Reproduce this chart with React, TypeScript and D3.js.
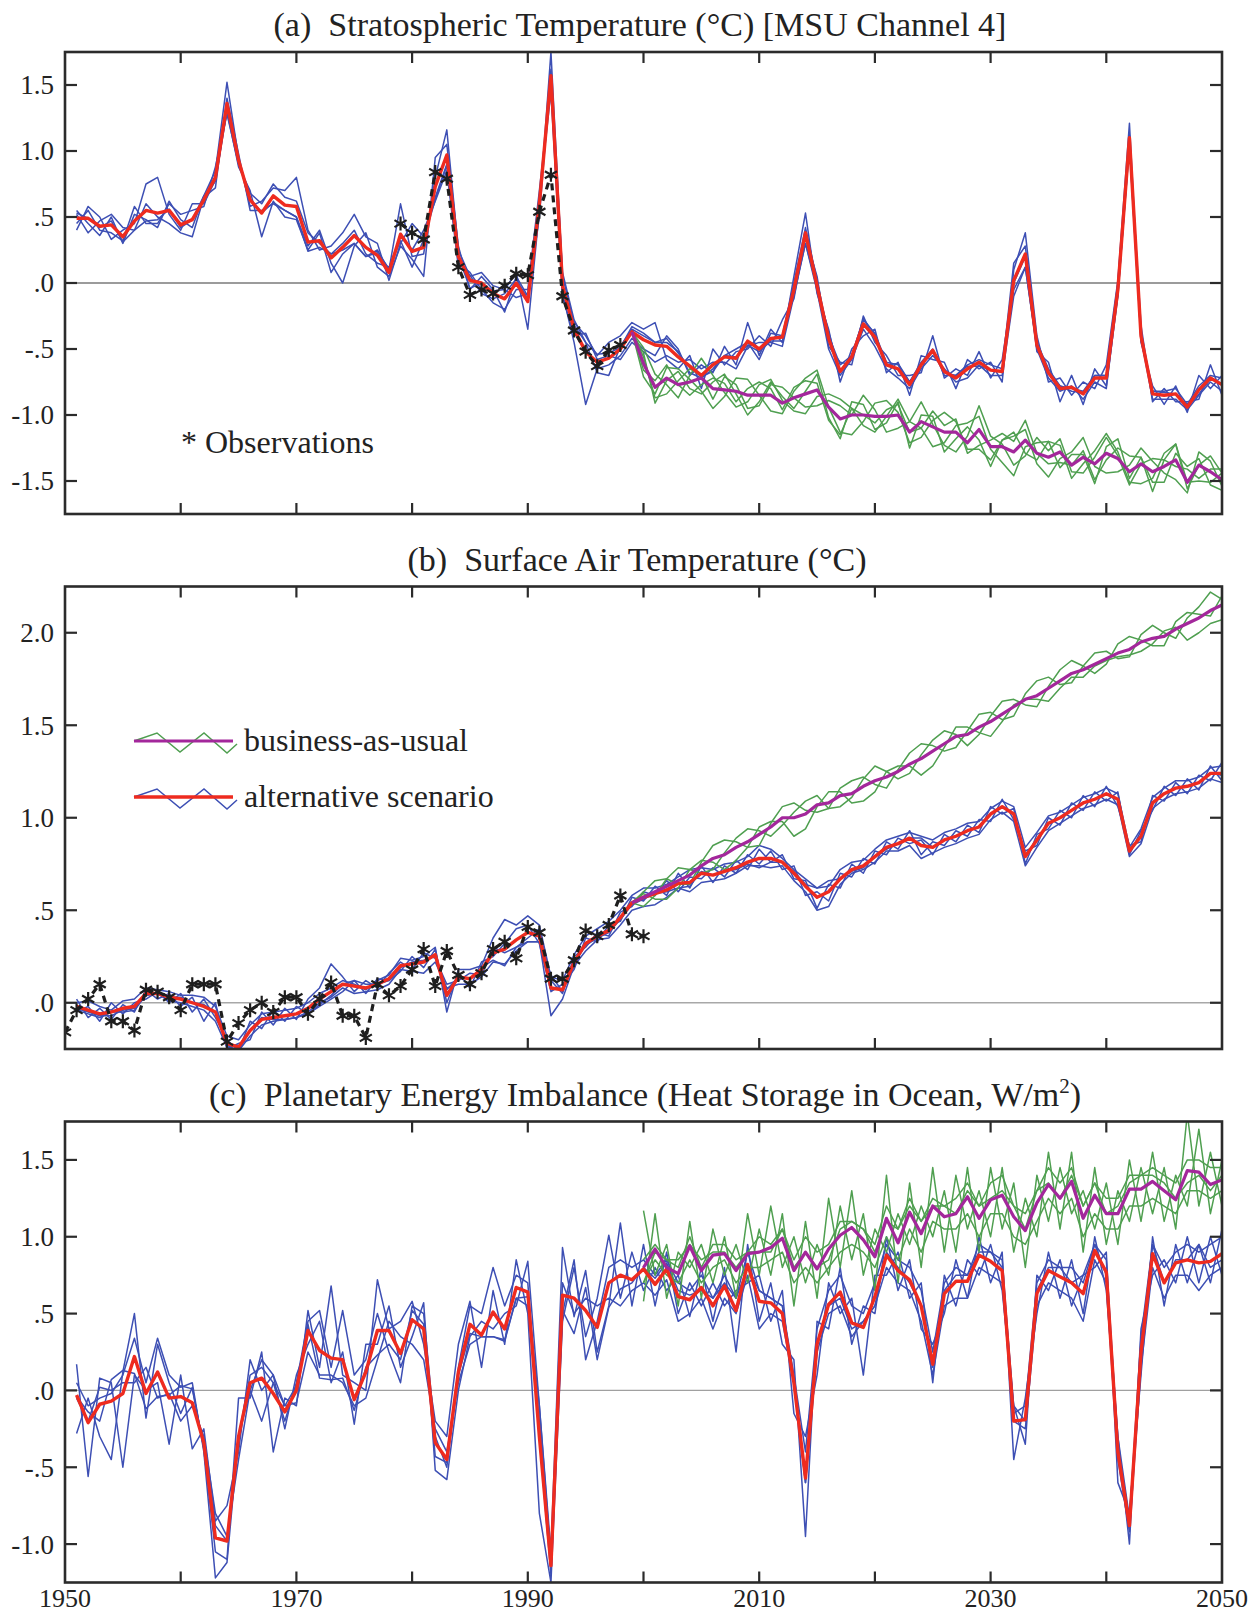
import React from 'react';
import * as d3 from 'd3';

const W = 1259;
const H = 1615;
const X0 = 65;
const X1 = 1222;
const FONT = "'Liberation Serif', 'Times New Roman', Times, serif";

const C_BLUE = '#3d4fb4';
const C_RED = '#ee2b1f';
const C_GREEN = '#4f9f50';
const C_MAG = '#a3279b';
const C_OBS = '#1e1e1e';

// ---------- years ----------
const altYears = d3.range(1951, 2051);
const bauYearsAB = d3.range(1999, 2051);
const bauYearsC = d3.range(2000, 2051);
const obsYearsA = d3.range(1979, 1999);
const obsYearsB = d3.range(1950, 2001);
const xTickYears = d3.range(1960, 2050, 10);
const xLabelYears = [1950, 1970, 1990, 2010, 2030, 2050];

// ---------- panel (a) stratospheric temperature ----------
const redA = [
  0.49, 0.49, 0.43, 0.44, 0.35, 0.47, 0.55, 0.53, 0.55, 0.44,
  0.48, 0.63, 0.80, 1.36, 0.93, 0.63, 0.53, 0.66, 0.59, 0.58,
  0.31, 0.32, 0.19, 0.27, 0.36, 0.27, 0.21, 0.08, 0.37, 0.24,
  0.27, 0.73, 0.97, 0.20, 0.02, 0.00, -0.08, -0.12, 0.00, -0.14,
  0.60, 1.57, -0.02, -0.35, -0.52, -0.60, -0.57, -0.50, -0.37, -0.43,
  -0.47, -0.48, -0.56, -0.63, -0.70, -0.62, -0.56, -0.57, -0.44, -0.50,
  -0.42, -0.41, -0.05, 0.38, -0.02, -0.42, -0.67, -0.56, -0.31, -0.41,
  -0.62, -0.65, -0.77, -0.62, -0.51, -0.67, -0.72, -0.65, -0.60, -0.66,
  -0.67, 0.02, 0.22, -0.47, -0.68, -0.80, -0.79, -0.84, -0.72, -0.72,
  -0.05, 1.10, -0.40, -0.84, -0.85, -0.84, -0.94, -0.81, -0.72, -0.77,
];

const blueA = [
  [0.55, 0.40, 0.52, 0.45, 0.53], [0.45, 0.58, 0.38, 0.55, 0.49], [0.36, 0.50, 0.47, 0.40, 0.42],
  [0.50, 0.33, 0.52, 0.38, 0.47], [0.30, 0.40, 0.42, 0.32, 0.31], [0.52, 0.45, 0.40, 0.58, 0.40],
  [0.48, 0.75, 0.60, 0.45, 0.47], [0.42, 0.80, 0.50, 0.45, 0.48], [0.62, 0.52, 0.45, 0.60, 0.56],
  [0.48, 0.40, 0.38, 0.52, 0.42], [0.42, 0.60, 0.35, 0.55, 0.48], [0.66, 0.60, 0.65, 0.58, 0.66],
  [0.85, 0.78, 0.72, 0.88, 0.77], [1.52, 1.30, 1.40, 1.28, 1.32], [0.95, 0.88, 0.98, 0.90, 0.94],
  [0.58, 0.70, 0.55, 0.68, 0.64], [0.62, 0.35, 0.55, 0.60, 0.53], [0.72, 0.62, 0.60, 0.75, 0.61],
  [0.70, 0.50, 0.55, 0.65, 0.55], [0.80, 0.48, 0.50, 0.62, 0.50], [0.40, 0.25, 0.28, 0.38, 0.24],
  [0.25, 0.38, 0.40, 0.30, 0.27], [0.28, 0.08, 0.15, 0.22, 0.22], [0.38, 0.22, 0.00, 0.30, 0.25],
  [0.52, 0.30, 0.28, 0.40, 0.30], [0.35, 0.20, 0.38, 0.22, 0.20], [0.30, 0.25, 0.12, 0.15, 0.23],
  [0.02, 0.10, 0.05, 0.12, 0.11], [0.30, 0.60, 0.28, 0.35, 0.32], [0.45, 0.20, 0.18, 0.25, 0.12],
  [0.35, 0.22, 0.05, 0.40, 0.33], [0.65, 0.80, 0.95, 0.62, 0.63], [0.90, 1.16, 1.05, 0.85, 0.89],
  [0.15, 0.25, 0.28, 0.12, 0.20], [0.08, 0.05, -0.05, 0.06, -0.04], [-0.05, 0.08, 0.05, -0.08, 0.00],
  [-0.15, -0.02, -0.05, -0.12, -0.06], [-0.20, -0.05, -0.22, -0.08, -0.05], [-0.05, 0.08, 0.05, 0.03, -0.11],
  [-0.05, -0.35, -0.10, -0.12, -0.08], [0.70, 0.55, 0.50, 0.65, 0.60], [1.50, 1.75, 1.62, 1.45, 1.53],
  [-0.08, 0.05, 0.08, -0.10, -0.05], [-0.45, -0.30, -0.28, -0.40, -0.32], [-0.92, -0.40, -0.45, -0.38, -0.45],
  [-0.65, -0.55, -0.68, -0.58, -0.54], [-0.62, -0.45, -0.70, -0.55, -0.53], [-0.55, -0.40, -0.48, -0.58, -0.49],
  [-0.42, -0.30, -0.35, -0.45, -0.33], [-0.50, -0.35, -0.40, -0.52, -0.38], [-0.55, -0.30, -0.45, -0.60, -0.45],
  [-0.40, -0.58, -0.45, -0.55, -0.42], [-0.50, -0.65, -0.52, -0.60, -0.53], [-0.70, -0.55, -0.68, -0.58, -0.64],
  [-0.62, -0.80, -0.72, -0.65, -0.71], [-0.68, -0.50, -0.65, -0.60, -0.67], [-0.48, -0.62, -0.55, -0.60, -0.55],
  [-0.62, -0.52, -0.50, -0.65, -0.56], [-0.30, -0.50, -0.45, -0.48, -0.47], [-0.55, -0.40, -0.58, -0.45, -0.52],
  [-0.35, -0.48, -0.38, -0.45, -0.44], [-0.45, -0.28, -0.40, -0.48, -0.44], [0.05, -0.12, 0.00, -0.10, -0.08],
  [0.53, 0.35, 0.42, 0.30, 0.30], [-0.08, 0.05, 0.02, -0.06, -0.03], [-0.35, -0.48, -0.40, -0.50, -0.37],
  [-0.75, -0.60, -0.62, -0.70, -0.68], [-0.50, -0.62, -0.55, -0.58, -0.55], [-0.40, -0.25, -0.28, -0.35, -0.27],
  [-0.35, -0.45, -0.38, -0.48, -0.39], [-0.68, -0.55, -0.60, -0.65, -0.62], [-0.60, -0.70, -0.62, -0.72, -0.61],
  [-0.85, -0.70, -0.75, -0.80, -0.75], [-0.55, -0.68, -0.60, -0.65, -0.62], [-0.58, -0.40, -0.50, -0.55, -0.52],
  [-0.60, -0.72, -0.70, -0.65, -0.68], [-0.80, -0.65, -0.70, -0.75, -0.70], [-0.58, -0.70, -0.62, -0.72, -0.63],
  [-0.65, -0.52, -0.58, -0.62, -0.63], [-0.60, -0.72, -0.62, -0.70, -0.66], [-0.75, -0.58, -0.65, -0.70, -0.67],
  [0.10, 0.00, 0.15, -0.10, -0.05], [0.38, 0.20, 0.28, 0.12, 0.12], [-0.40, -0.52, -0.45, -0.50, -0.48],
  [-0.75, -0.60, -0.65, -0.72, -0.68], [-0.72, -0.90, -0.78, -0.82, -0.78], [-0.85, -0.70, -0.80, -0.78, -0.82],
  [-0.75, -0.92, -0.82, -0.88, -0.83], [-0.80, -0.65, -0.70, -0.75, -0.70], [-0.62, -0.78, -0.70, -0.80, -0.70],
  [0.02, -0.10, 0.00, -0.08, -0.09], [1.21, 1.08, 1.12, 1.05, 1.04], [-0.45, -0.32, -0.38, -0.42, -0.43],
  [-0.78, -0.90, -0.82, -0.88, -0.82], [-0.92, -0.80, -0.82, -0.88, -0.83], [-0.78, -0.90, -0.80, -0.88, -0.84],
  [-0.98, -0.90, -0.92, -0.96, -0.94], [-0.70, -0.88, -0.78, -0.85, -0.84], [-0.80, -0.62, -0.70, -0.75, -0.73],
  [-0.70, -0.85, -0.72, -0.82, -0.76],
];

const magentaA = [
  -0.37, -0.61, -0.79, -0.72, -0.77, -0.75, -0.72, -0.80, -0.81, -0.82, -0.85,
  -0.85, -0.85, -0.91, -0.87, -0.84, -0.81, -0.94, -1.03, -1.00, -1.00,
  -1.01, -1.01, -1.00, -1.13, -1.05, -1.09, -1.13, -1.13, -1.21, -1.11,
  -1.24, -1.24, -1.28, -1.19, -1.29, -1.32, -1.28, -1.38, -1.32, -1.37,
  -1.29, -1.33, -1.43, -1.37, -1.43, -1.39, -1.34, -1.51, -1.38, -1.43, -1.49,
];
const greenA1 = [
  -0.37, -0.49, -0.69, -0.77, -0.87, -0.70, -0.57, -0.70, -0.83, -0.94, -0.90,
  -0.77, -0.73, -0.89, -0.97, -0.99, -0.86, -0.84, -0.88, -0.95, -1.08,
  -1.13, -1.01, -0.88, -1.05, -1.10, -1.24, -1.21, -1.08, -1.06, -1.01,
  -1.26, -1.36, -1.46, -1.24, -1.21, -1.20, -1.23, -1.48, -1.37, -1.27,
  -1.14, -1.28, -1.51, -1.52, -1.48, -1.29, -1.22, -1.51, -1.50, -1.51, -1.44,
];
const greenA2 = [
  -0.37, -0.71, -0.84, -0.64, -0.65, -0.73, -0.82, -0.95, -0.86, -0.72, -0.73,
  -0.85, -0.97, -0.99, -0.82, -0.72, -0.66, -0.94, -1.13, -1.15, -1.05,
  -0.91, -0.89, -0.98, -1.21, -1.17, -1.04, -0.98, -1.05, -1.26, -1.26,
  -1.34, -1.19, -1.16, -1.11, -1.37, -1.47, -1.33, -1.28, -1.17, -1.39,
  -1.44, -1.43, -1.38, -1.25, -1.35, -1.44, -1.49, -1.59, -1.28, -1.35, -1.54,
];
const greenA3 = [
  -0.37, -0.56, -0.87, -0.84, -0.74, -0.65, -0.70, -0.88, -0.71, -0.77, -0.95,
  -0.93, -0.77, -0.79, -0.87, -0.94, -0.93, -0.89, -0.93, -1.00, -0.85,
  -0.96, -1.13, -1.10, -1.05, -0.90, -1.07, -1.23, -1.28, -1.16, -0.93,
  -1.16, -1.22, -1.38, -1.31, -1.17, -1.27, -1.18, -1.43, -1.44, -1.32,
  -1.17, -1.31, -1.53, -1.37, -1.33, -1.34, -1.22, -1.56, -1.38, -1.31, -1.44,
];
const greenA4 = [
  -0.37, -0.66, -0.74, -0.62, -0.77, -0.85, -0.77, -0.72, -0.76, -0.90, -0.80,
  -0.75, -0.80, -0.96, -0.79, -0.74, -0.76, -1.04, -1.15, -0.95, -1.00,
  -1.06, -0.96, -0.92, -1.13, -1.10, -0.97, -1.08, -1.03, -1.29, -1.23,
  -1.19, -1.14, -1.20, -1.04, -1.29, -1.37, -1.36, -1.38, -1.27, -1.49,
  -1.34, -1.25, -1.31, -1.32, -1.51, -1.51, -1.29, -1.39, -1.33, -1.53, -1.57,
];
const greenA5 = [
  -0.37, -0.53, -0.91, -0.74, -0.67, -0.80, -0.84, -0.75, -0.69, -0.84, -1.00,
  -0.90, -0.75, -0.86, -0.95, -0.82, -0.69, -1.02, -1.18, -0.90, -0.92,
  -1.11, -1.06, -0.90, -1.25, -1.00, -1.01, -1.28, -1.18, -1.09, -1.19,
  -1.39, -1.19, -1.13, -1.29, -1.34, -1.20, -1.40, -1.30, -1.30, -1.52,
  -1.24, -1.18, -1.48, -1.32, -1.58, -1.34, -1.39, -1.41, -1.48, -1.41, -1.41,
];

const obsA = [
  0.45, 0.38, 0.33, 0.84, 0.79, 0.12, -0.09, -0.05, -0.08, -0.02,
  0.07, 0.06, 0.54, 0.82, -0.10, -0.36, -0.52, -0.63, -0.51, -0.47,
];

// ---------- panel (b) surface air temperature ----------
const redB = [
  -0.02, -0.04, -0.06, -0.05, -0.03, -0.02, 0.05, 0.05, 0.03, 0.02,
  0.00, -0.02, -0.05, -0.22, -0.24, -0.15, -0.09, -0.08, -0.07, -0.06,
  -0.03, 0.02, 0.06, 0.10, 0.09, 0.08, 0.10, 0.13, 0.20, 0.21,
  0.22, 0.26, 0.04, 0.14, 0.13, 0.18, 0.27, 0.29, 0.34, 0.38,
  0.36, 0.08, 0.07, 0.22, 0.32, 0.36, 0.39, 0.46, 0.54, 0.57,
  0.59, 0.61, 0.645, 0.65, 0.70, 0.69, 0.71, 0.73, 0.76, 0.78,
  0.78, 0.76, 0.70, 0.63, 0.57, 0.60, 0.67, 0.72, 0.74, 0.79,
  0.84, 0.86, 0.89, 0.85, 0.84, 0.88, 0.90, 0.93, 0.95, 1.02,
  1.06, 1.02, 0.79, 0.88, 0.97, 1.00, 1.04, 1.08, 1.10, 1.13,
  1.10, 0.82, 0.90, 1.08, 1.13, 1.16, 1.17, 1.19, 1.24, 1.24,
];

const blueB = [
  [0.02, -0.05, 0.00, -0.04, -0.03], [-0.08, -0.02, 0.01, -0.06, -0.05], [-0.03, -0.10, -0.02, -0.08, -0.07],
  [-0.09, 0.00, -0.04, -0.05, -0.07], [-0.01, -0.06, 0.01, -0.05, -0.04], [-0.05, 0.00, 0.02, -0.04, -0.03],
  [0.07, 0.02, 0.08, 0.04, 0.04], [0.02, 0.06, 0.07, 0.05, 0.05], [0.05, 0.00, 0.06, 0.01, 0.03],
  [-0.02, 0.05, 0.04, 0.00, 0.03], [0.03, -0.05, 0.04, -0.02, 0.00], [-0.10, 0.02, 0.03, -0.04, -0.01],
  [0.00, -0.08, -0.02, -0.10, -0.05], [-0.25, -0.20, -0.18, -0.24, -0.23], [-0.22, -0.26, -0.20, -0.26, -0.26],
  [-0.20, -0.10, -0.12, -0.18, -0.15], [-0.05, -0.14, -0.06, -0.12, -0.08], [-0.12, -0.04, -0.05, -0.10, -0.09],
  [-0.03, -0.10, -0.04, -0.09, -0.09], [-0.09, -0.02, -0.03, -0.08, -0.08], [0.02, -0.06, 0.00, -0.05, -0.06],
  [0.08, -0.02, 0.05, 0.00, -0.01], [0.21, 0.02, 0.08, 0.03, 0.04], [0.14, 0.06, 0.12, 0.08, 0.10],
  [0.06, 0.12, 0.10, 0.05, 0.12], [0.12, 0.05, 0.07, 0.06, 0.10], [0.08, 0.13, 0.12, 0.07, 0.10],
  [0.16, 0.12, 0.15, 0.10, 0.12], [0.22, 0.17, 0.24, 0.18, 0.19], [0.18, 0.25, 0.23, 0.17, 0.22],
  [0.27, 0.19, 0.25, 0.16, 0.23], [0.24, 0.29, 0.30, 0.22, 0.25], [0.10, 0.00, -0.05, 0.08, 0.07],
  [0.12, 0.16, 0.18, 0.10, 0.14], [0.16, 0.08, 0.18, 0.10, 0.13], [0.15, 0.22, 0.20, 0.14, 0.19],
  [0.30, 0.25, 0.35, 0.22, 0.23], [0.27, 0.32, 0.45, 0.21, 0.20], [0.30, 0.40, 0.42, 0.28, 0.30],
  [0.35, 0.42, 0.47, 0.33, 0.33], [0.40, 0.32, 0.42, 0.33, 0.33], [0.12, 0.06, 0.14, -0.07, 0.15],
  [0.05, 0.10, 0.12, 0.02, 0.06], [0.25, 0.18, 0.26, 0.20, 0.21], [0.30, 0.35, 0.36, 0.28, 0.31],
  [0.38, 0.33, 0.40, 0.34, 0.35], [0.36, 0.42, 0.44, 0.35, 0.38], [0.49, 0.44, 0.50, 0.42, 0.45],
  [0.52, 0.57, 0.58, 0.50, 0.53], [0.60, 0.55, 0.62, 0.52, 0.56], [0.58, 0.63, 0.62, 0.53, 0.59],
  [0.66, 0.58, 0.64, 0.57, 0.60], [0.60, 0.70, 0.68, 0.62, 0.62], [0.68, 0.62, 0.72, 0.60, 0.63],
  [0.67, 0.74, 0.73, 0.65, 0.71], [0.73, 0.65, 0.72, 0.66, 0.69], [0.68, 0.74, 0.75, 0.67, 0.71],
  [0.77, 0.70, 0.76, 0.70, 0.72], [0.72, 0.80, 0.79, 0.74, 0.75], [0.83, 0.75, 0.85, 0.74, 0.73],
  [0.76, 0.82, 0.83, 0.73, 0.76], [0.80, 0.72, 0.78, 0.74, 0.76], [0.67, 0.74, 0.72, 0.66, 0.71],
  [0.66, 0.58, 0.67, 0.60, 0.64], [0.51, 0.60, 0.62, 0.50, 0.62], [0.64, 0.55, 0.63, 0.52, 0.66],
  [0.62, 0.70, 0.72, 0.64, 0.67], [0.75, 0.68, 0.76, 0.70, 0.71], [0.70, 0.78, 0.77, 0.72, 0.73],
  [0.82, 0.75, 0.83, 0.76, 0.79], [0.80, 0.87, 0.88, 0.82, 0.83], [0.89, 0.83, 0.90, 0.82, 0.86],
  [0.86, 0.93, 0.92, 0.85, 0.89], [0.88, 0.80, 0.90, 0.78, 0.89], [0.80, 0.87, 0.88, 0.81, 0.84],
  [0.91, 0.85, 0.92, 0.84, 0.88], [0.87, 0.93, 0.94, 0.86, 0.90], [0.96, 0.90, 0.97, 0.89, 0.93],
  [0.92, 0.99, 0.98, 0.91, 0.95], [1.06, 0.98, 1.05, 0.99, 1.02], [1.02, 1.10, 1.09, 1.03, 1.06],
  [1.05, 0.99, 1.06, 0.98, 1.02], [0.75, 0.82, 0.84, 0.74, 0.80], [0.91, 0.85, 0.92, 0.84, 0.88],
  [0.94, 1.00, 1.01, 0.93, 0.97], [1.04, 0.96, 1.03, 0.97, 1.00], [1.00, 1.08, 1.07, 1.01, 1.04],
  [1.12, 1.04, 1.11, 1.05, 1.08], [1.06, 1.14, 1.13, 1.07, 1.10], [1.17, 1.09, 1.16, 1.10, 1.13],
  [1.06, 1.14, 1.13, 1.07, 1.10], [0.85, 0.80, 0.84, 0.79, 0.82], [0.87, 0.93, 0.94, 0.86, 0.90],
  [1.12, 1.04, 1.11, 1.05, 1.08], [1.09, 1.17, 1.16, 1.10, 1.13], [1.19, 1.12, 1.20, 1.13, 1.16],
  [1.13, 1.21, 1.20, 1.14, 1.17], [1.23, 1.15, 1.22, 1.16, 1.19], [1.20, 1.28, 1.27, 1.21, 1.24],
  [1.30, 1.20, 1.28, 1.19, 1.23],
];

const magentaB = [
  0.54, 0.57, 0.60, 0.63, 0.66, 0.69, 0.74, 0.78, 0.80, 0.84, 0.87,
  0.91, 0.95, 1.00, 1.00, 1.02, 1.07, 1.08, 1.12, 1.13, 1.17,
  1.20, 1.22, 1.25, 1.29, 1.32, 1.36, 1.40, 1.44, 1.45, 1.49,
  1.52, 1.56, 1.60, 1.64, 1.66, 1.70, 1.74, 1.78, 1.80, 1.83,
  1.86, 1.89, 1.91, 1.95, 1.97, 1.98, 2.02, 2.05, 2.08, 2.12, 2.15,
];
const greenB1 = [
  0.54, 0.60, 0.66, 0.67, 0.64, 0.64, 0.76, 0.85, 0.88, 0.87, 0.84,
  0.85, 0.97, 1.06, 1.08, 1.04, 1.03, 1.05, 1.16, 1.20, 1.22,
  1.18, 1.16, 1.26, 1.35, 1.40, 1.39, 1.36, 1.38, 1.47, 1.56,
  1.57, 1.53, 1.55, 1.67, 1.74, 1.76, 1.72, 1.73, 1.82, 1.89,
  1.90, 1.86, 1.87, 1.99, 2.04, 2.00, 1.97, 2.08, 2.14, 2.22, 2.18,
];
const greenB2 = [
  0.54, 0.52, 0.58, 0.67, 0.73, 0.72, 0.70, 0.72, 0.81, 0.89, 0.94,
  0.93, 0.90, 0.96, 1.03, 1.09, 1.12, 1.05, 1.06, 1.11, 1.21,
  1.28, 1.25, 1.21, 1.24, 1.34, 1.42, 1.47, 1.45, 1.39, 1.45,
  1.55, 1.63, 1.64, 1.61, 1.60, 1.71, 1.80, 1.85, 1.82, 1.78,
  1.83, 1.94, 1.98, 1.96, 1.93, 1.93, 2.06, 2.11, 2.10, 2.09, 2.20,
];
const greenB3 = [
  0.54, 0.59, 0.56, 0.56, 0.62, 0.72, 0.77, 0.76, 0.72, 0.77, 0.84,
  0.95, 0.98, 0.98, 0.90, 0.94, 1.06, 1.14, 1.14, 1.08, 1.09,
  1.14, 1.25, 1.28, 1.28, 1.23, 1.28, 1.38, 1.49, 1.49, 1.46,
  1.44, 1.52, 1.61, 1.64, 1.64, 1.63, 1.70, 1.76, 1.76, 1.82,
  1.85, 1.87, 1.88, 1.90, 1.94, 2.01, 2.03, 1.96, 2.00, 2.05, 2.07,
];

const obsB = [
  -0.16, -0.04, 0.02, 0.10, -0.10, -0.10, -0.15, 0.07, 0.06, 0.03,
  -0.04, 0.10, 0.10, 0.10, -0.21, -0.11, -0.04, 0.00, -0.05, 0.03,
  0.03, -0.06, 0.02, 0.11, -0.07, -0.07, -0.19, 0.10, 0.04, 0.09,
  0.18, 0.29, 0.09, 0.28, 0.15, 0.10, 0.16, 0.29, 0.33, 0.24,
  0.41, 0.38, 0.13, 0.13, 0.23, 0.39, 0.36, 0.42, 0.58, 0.37,
  0.36,
];

// ---------- panel (c) planetary energy imbalance ----------
const redC = [
  -0.03, -0.21, -0.09, -0.07, -0.02, 0.22, -0.02, 0.12, -0.05, -0.04,
  -0.08, -0.34, -0.96, -0.98, -0.30, 0.05, 0.08, -0.02, -0.14, 0.00,
  0.39, 0.26, 0.21, 0.20, -0.06, 0.12, 0.39, 0.39, 0.24, 0.46,
  0.40, -0.34, -0.45, 0.12, 0.43, 0.36, 0.51, 0.40, 0.67, 0.64,
  -0.30, -1.14, 0.62, 0.60, 0.52, 0.41, 0.70, 0.75, 0.72, 0.79,
  0.69, 0.79, 0.61, 0.59, 0.67, 0.55, 0.68, 0.52, 0.82, 0.58,
  0.57, 0.50, 0.05, -0.57, 0.30, 0.56, 0.64, 0.44, 0.41, 0.61,
  0.88, 0.78, 0.72, 0.55, 0.17, 0.63, 0.71, 0.71, 0.88, 0.84,
  0.78, -0.20, -0.19, 0.63, 0.78, 0.74, 0.70, 0.63, 0.91, 0.77,
  -0.40, -0.88, 0.25, 0.89, 0.70, 0.83, 0.85, 0.83, 0.84, 0.89,
];

const blueC = [
  [0.17, -0.28, 0.05, -0.05, -0.04], [-0.56, -0.05, -0.10, -0.20, -0.14], [0.08, -0.30, -0.05, 0.02, -0.20],
  [0.05, -0.45, -0.02, 0.00, 0.07], [-0.50, 0.12, 0.10, 0.05, 0.13], [0.10, 0.50, 0.34, 0.05, 0.11],
  [0.00, -0.18, 0.05, 0.15, -0.12], [0.05, 0.30, 0.34, -0.05, -0.04], [-0.35, 0.05, 0.10, -0.02, -0.03],
  [0.10, -0.15, 0.02, -0.20, 0.03], [-0.38, 0.02, 0.05, -0.10, 0.01], [-0.25, -0.38, -0.40, -0.30, -0.37],
  [-0.85, -1.05, -1.22, -0.80, -0.88], [-0.75, -1.10, -1.12, -0.95, -0.98], [-0.40, -0.05, -0.30, -0.45, -0.30],
  [0.20, -0.05, 0.10, 0.00, 0.00], [0.00, 0.25, 0.15, -0.20, 0.20], [0.10, -0.40, 0.05, 0.05, 0.10],
  [-0.25, -0.05, -0.20, -0.10, -0.10], [0.10, -0.10, 0.05, -0.08, 0.03], [0.30, 0.52, 0.45, 0.25, 0.43],
  [0.45, 0.15, 0.52, 0.10, 0.08], [0.05, 0.68, 0.15, 0.10, 0.07], [0.25, 0.10, 0.52, 0.05, 0.08],
  [-0.22, 0.05, 0.10, -0.10, -0.13], [0.30, 0.00, 0.20, -0.05, 0.15], [0.30, 0.72, 0.50, 0.20, 0.23],
  [0.55, 0.40, 0.25, 0.45, 0.30], [0.15, 0.45, 0.05, 0.35, 0.20], [0.35, 0.58, 0.55, 0.30, 0.52],
  [0.57, 0.30, 0.50, 0.20, 0.43], [-0.52, -0.20, -0.30, -0.25, -0.43], [-0.58, -0.30, -0.50, -0.40, -0.47],
  [0.00, 0.30, 0.15, 0.05, 0.10], [0.35, 0.58, 0.55, 0.30, 0.37], [0.45, 0.15, 0.50, 0.35, 0.35],
  [0.40, 0.65, 0.80, 0.35, 0.35], [0.50, 0.30, 0.55, 0.32, 0.33], [0.55, 0.85, 0.75, 0.60, 0.60],
  [0.84, 0.50, 0.70, 0.55, 0.61], [-0.10, -0.80, -0.30, -0.20, -0.10], [-1.05, -1.25, -1.20, -1.10, -1.10],
  [0.93, 0.45, 0.50, 0.70, 0.52], [0.48, 0.80, 0.85, 0.50, 0.37], [0.78, 0.35, 0.20, 0.60, 0.67],
  [0.25, 0.60, 0.45, 0.55, 0.20], [0.55, 1.01, 0.80, 0.60, 0.54], [1.09, 0.60, 0.85, 0.55, 0.66],
  [0.55, 0.90, 0.80, 0.65, 0.70], [0.95, 0.65, 0.85, 0.70, 0.80], [0.55, 0.80, 0.75, 0.62, 0.73],
  [0.90, 0.65, 0.85, 0.72, 0.83], [0.50, 0.75, 0.70, 0.45, 0.65], [0.70, 0.48, 0.65, 0.50, 0.62],
  [0.55, 0.80, 0.75, 0.60, 0.65], [0.70, 0.45, 0.60, 0.40, 0.60], [0.55, 0.80, 0.75, 0.60, 0.70],
  [0.65, 0.25, 0.60, 0.50, 0.60], [0.70, 0.95, 0.90, 0.75, 0.80], [0.75, 0.45, 0.65, 0.40, 0.65],
  [0.45, 0.70, 0.60, 0.50, 0.60], [0.65, 0.30, 0.55, 0.45, 0.55], [-0.15, 0.20, 0.10, 0.05, 0.05],
  [-0.30, -0.95, -0.40, -0.60, -0.60], [0.10, 0.45, 0.40, 0.25, 0.30], [0.70, 0.40, 0.65, 0.50, 0.55],
  [0.50, 0.80, 0.75, 0.55, 0.60], [0.60, 0.30, 0.55, 0.35, 0.40], [0.10, 0.55, 0.50, 0.45, 0.45],
  [0.75, 0.50, 0.70, 0.55, 0.55], [0.75, 1.00, 0.95, 0.80, 0.90], [0.90, 0.65, 0.85, 0.70, 0.80],
  [0.60, 0.85, 0.80, 0.65, 0.70], [0.70, 0.40, 0.65, 0.45, 0.55], [0.05, 0.30, 0.25, 0.10, 0.15],
  [0.75, 0.50, 0.70, 0.55, 0.65], [0.55, 0.85, 0.80, 0.60, 0.75], [0.85, 0.60, 0.75, 0.60, 0.75],
  [0.75, 1.00, 0.95, 0.80, 0.90], [0.95, 0.70, 0.90, 0.75, 0.90], [0.65, 0.90, 0.85, 0.70, 0.80],
  [-0.10, -0.45, -0.15, -0.20, -0.10], [-0.35, -0.05, -0.10, -0.25, -0.20], [0.75, 0.50, 0.70, 0.55, 0.65],
  [0.65, 0.90, 0.85, 0.70, 0.80], [0.85, 0.60, 0.80, 0.65, 0.80], [0.55, 0.85, 0.80, 0.60, 0.70],
  [0.75, 0.50, 0.70, 0.45, 0.75], [0.80, 1.00, 0.95, 0.85, 0.95], [0.90, 0.65, 0.85, 0.70, 0.75],
  [-0.60, -0.30, -0.35, -0.45, -0.30], [-0.80, -1.00, -0.85, -0.92, -0.83], [0.10, 0.40, 0.35, 0.15, 0.25],
  [1.00, 0.75, 0.95, 0.80, 0.95], [0.55, 0.85, 0.80, 0.60, 0.70], [0.95, 0.70, 0.90, 0.75, 0.85],
  [0.70, 1.00, 0.95, 0.75, 0.85], [0.95, 0.70, 0.90, 0.65, 0.95], [0.70, 1.00, 0.95, 0.75, 0.80],
  [1.05, 0.75, 1.00, 0.80, 0.85],
];

const magentaC = [
  0.80, 0.92, 0.80, 0.76, 0.94, 0.78, 0.88, 0.89, 0.78, 0.89,
  0.90, 0.93, 0.99, 0.78, 0.90, 0.79, 0.92, 1.01, 1.06, 0.98,
  0.87, 1.12, 0.96, 1.16, 1.02, 1.20, 1.13, 1.15, 1.26, 1.12,
  1.24, 1.27, 1.13, 1.04, 1.22, 1.34, 1.25, 1.36, 1.12, 1.27,
  1.15, 1.15, 1.31, 1.31, 1.36, 1.30, 1.24, 1.43, 1.42, 1.34,
  1.37,
];

const greenC = [
  [1.17, 0.58, 0.85, 0.70, 0.70], [0.75, 1.15, 0.95, 0.85, 0.90], [0.95, 0.60, 0.85, 0.75, 0.85],
  [0.55, 0.90, 0.80, 0.70, 0.85], [1.10, 0.80, 1.00, 0.85, 0.95], [0.60, 0.95, 0.80, 0.70, 0.85],
  [1.05, 0.70, 0.95, 0.80, 0.90], [0.75, 1.00, 0.95, 0.85, 0.90], [0.95, 0.60, 0.85, 0.70, 0.80],
  [0.70, 1.15, 0.90, 0.80, 0.90], [1.05, 0.75, 1.00, 0.80, 0.90], [0.75, 1.20, 0.95, 0.85, 0.90],
  [1.15, 0.80, 1.05, 0.90, 1.05], [0.55, 1.00, 0.85, 0.70, 0.80], [1.10, 0.70, 1.00, 0.80, 0.90],
  [0.60, 0.95, 0.90, 0.70, 0.80], [1.25, 0.75, 0.95, 0.80, 0.85], [0.80, 1.20, 1.10, 0.90, 1.05],
  [1.30, 0.85, 1.10, 0.95, 1.10], [0.75, 1.15, 1.05, 0.90, 1.05], [1.05, 0.65, 0.95, 0.80, 0.90],
  [0.90, 1.40, 1.20, 1.00, 1.10], [1.15, 0.70, 1.05, 0.85, 1.05], [0.95, 1.35, 1.25, 1.05, 1.20],
  [1.20, 0.80, 1.10, 0.90, 1.10], [1.00, 1.45, 1.25, 1.10, 1.20], [1.30, 0.90, 1.20, 1.05, 1.20],
  [0.90, 1.40, 1.25, 1.05, 1.15], [1.45, 1.05, 1.35, 1.15, 1.30], [0.90, 1.30, 1.20, 1.00, 1.20],
  [1.45, 1.00, 1.35, 1.15, 1.25], [1.05, 1.45, 1.40, 1.15, 1.30], [1.35, 0.90, 1.20, 1.00, 1.20],
  [0.80, 1.25, 1.15, 0.95, 1.05], [1.40, 1.00, 1.30, 1.10, 1.30], [1.10, 1.55, 1.45, 1.25, 1.35],
  [1.45, 1.05, 1.35, 1.15, 1.25], [1.15, 1.55, 1.45, 1.25, 1.40], [1.30, 0.90, 1.20, 1.00, 1.20],
  [1.05, 1.45, 1.35, 1.15, 1.35], [1.35, 0.95, 1.25, 1.05, 1.15], [0.95, 1.30, 1.25, 1.05, 1.20],
  [1.50, 1.10, 1.40, 1.20, 1.35], [1.10, 1.45, 1.40, 1.20, 1.40], [1.55, 1.15, 1.45, 1.25, 1.40],
  [1.10, 1.45, 1.40, 1.20, 1.35], [1.40, 1.05, 1.35, 1.15, 1.25], [1.20, 1.80, 1.50, 1.30, 1.35],
  [1.70, 1.20, 1.50, 1.30, 1.40], [1.15, 1.55, 1.45, 1.25, 1.30], [1.50, 1.20, 1.45, 1.30, 1.40],
];

// ---------- helpers ----------
const xScale = d3.scaleLinear().domain([1950, 2050]).range([X0, X1]);

const columns = (rows: number[][]) => d3.range(rows[0].length).map((k) => rows.map((r) => r[k]));

const fmtTick = (v: number) => {
  const s = v.toFixed(1);
  return Math.abs(v) < 1 ? s.replace('0.', '.') : s;
};

function linePath(years: number[], vals: number[], y: d3.ScaleLinear<number, number>) {
  return (
    d3
      .line<number>()
      .x((_, i) => xScale(years[i]))
      .y((d) => y(d))(vals) || ''
  );
}

function asteriskPath(cx: number, cy: number, r: number) {
  const dx = r * 0.866;
  const dy = r * 0.5;
  return `M${cx},${cy - r}L${cx},${cy + r}M${cx - dx},${cy - dy}L${cx + dx},${cy + dy}M${cx - dx},${cy + dy}L${cx + dx},${cy - dy}`;
}

type PanelProps = {
  id: string;
  top: number;
  bottom: number;
  domain: [number, number];
  ticks: number[];
  blue: number[][];
  red: number[];
  greens: number[][];
  greenYears: number[];
  magenta: number[];
  obs?: number[];
  obsYears?: number[];
  zeroColor: string;
};

function Panel(p: PanelProps) {
  const y = d3.scaleLinear().domain(p.domain).range([p.bottom, p.top]);
  const blueSeries = columns(p.blue);
  return (
    <g>
      <defs>
        <clipPath id={p.id}>
          <rect x={X0} y={p.top} width={X1 - X0} height={p.bottom - p.top} />
        </clipPath>
      </defs>
      <line x1={X0} x2={X1} y1={y(0)} y2={y(0)} stroke={p.zeroColor} strokeWidth={1.3} />
      <g clipPath={`url(#${p.id})`} fill="none" strokeLinejoin="round">
        {blueSeries.map((s, i) => (
          <path key={'b' + i} d={linePath(altYears, s, y)} stroke={C_BLUE} strokeWidth={1.5} />
        ))}
        {p.greens.map((s, i) => (
          <path key={'g' + i} d={linePath(p.greenYears, s, y)} stroke={C_GREEN} strokeWidth={1.5} />
        ))}
        <path d={linePath(altYears, p.red, y)} stroke={C_RED} strokeWidth={3.4} />
        <path d={linePath(p.greenYears, p.magenta, y)} stroke={C_MAG} strokeWidth={3.2} />
        {p.obs && p.obsYears && (
          <g>
            <path
              d={linePath(p.obsYears, p.obs, y)}
              stroke={C_OBS}
              strokeWidth={3.2}
              strokeDasharray="7 5"
            />
            {p.obs.map((v, i) => (
              <path
                key={'o' + i}
                d={asteriskPath(xScale(p.obsYears![i]), y(v), 7)}
                stroke={C_OBS}
                strokeWidth={2.2}
              />
            ))}
          </g>
        )}
      </g>
      <rect
        x={X0}
        y={p.top}
        width={X1 - X0}
        height={p.bottom - p.top}
        fill="none"
        stroke="#2b2b2b"
        strokeWidth={2.6}
      />
      {p.ticks.map((t) => (
        <g key={'yt' + t}>
          <line x1={X0} x2={X0 + 12} y1={y(t)} y2={y(t)} stroke="#2b2b2b" strokeWidth={2.2} />
          <line x1={X1} x2={X1 - 12} y1={y(t)} y2={y(t)} stroke="#2b2b2b" strokeWidth={2.2} />
          <text
            x={X0 - 11}
            y={y(t)}
            dy="0.35em"
            textAnchor="end"
            fontFamily={FONT}
            fontSize={27}
            fill="#222"
          >
            {fmtTick(t)}
          </text>
        </g>
      ))}
      {xTickYears.map((yr) => (
        <g key={'xt' + yr}>
          <line x1={xScale(yr)} x2={xScale(yr)} y1={p.top} y2={p.top + 11} stroke="#2b2b2b" strokeWidth={2.2} />
          <line
            x1={xScale(yr)}
            x2={xScale(yr)}
            y1={p.bottom}
            y2={p.bottom - 11}
            stroke="#2b2b2b"
            strokeWidth={2.2}
          />
        </g>
      ))}
    </g>
  );
}

function Legend() {
  const zig = (y0: number) =>
    `M134,${y0}L157,${y0 - 8}L180,${y0 + 11}L204,${y0 - 8}L227,${y0 + 12}L237,${y0 + 3}`;
  return (
    <g>
      <path d={zig(741)} fill="none" stroke={C_GREEN} strokeWidth={1.5} />
      <line x1={134} x2={233} y1={741} y2={741} stroke={C_MAG} strokeWidth={3.2} />
      <text x={244} y={751} fontFamily={FONT} fontSize={32} fill="#222">
        business-as-usual
      </text>
      <path d={zig(797)} fill="none" stroke={C_BLUE} strokeWidth={1.5} />
      <line x1={134} x2={233} y1={797} y2={797} stroke={C_RED} strokeWidth={3.4} />
      <text x={244} y={807} fontFamily={FONT} fontSize={32} fill="#222">
        alternative scenario
      </text>
    </g>
  );
}

const SP = '\u00A0\u00A0';

export default function App() {
  const titleProps = { fontFamily: FONT, fontSize: 34, fill: '#222', textAnchor: 'middle' as const };
  return (
    <svg
      width={W}
      height={H}
      viewBox={`0 0 ${W} ${H}`}
      style={{ position: 'absolute', left: 0, top: 0, background: '#fff' }}
    >
      <rect x={0} y={0} width={W} height={H} fill="#fff" />
      <text x={640} y={36} {...titleProps}>
        {`(a)${SP}Stratospheric Temperature (°C) [MSU Channel 4]`}
      </text>
      <Panel
        id="clipA"
        top={52}
        bottom={514}
        domain={[-1.75, 1.75]}
        ticks={[-1.5, -1, -0.5, 0, 0.5, 1, 1.5]}
        blue={blueA}
        red={redA}
        greens={[greenA1, greenA2, greenA3, greenA4, greenA5]}
        greenYears={bauYearsAB}
        magenta={magentaA}
        obs={obsA}
        obsYears={obsYearsA}
        zeroColor="#7a7a7a"
      />
      <text x={181} y={453} fontFamily={FONT} fontSize={32} fill="#222">
        * Observations
      </text>

      <text x={637} y={571} {...titleProps}>
        {`(b)${SP}Surface Air Temperature (°C)`}
      </text>
      <Panel
        id="clipB"
        top={586.5}
        bottom={1049}
        domain={[-0.25, 2.25]}
        ticks={[0, 0.5, 1, 1.5, 2]}
        blue={blueB}
        red={redB}
        greens={[greenB1, greenB2, greenB3]}
        greenYears={bauYearsAB}
        magenta={magentaB}
        obs={obsB}
        obsYears={obsYearsB}
        zeroColor="#a8a8a8"
      />
      <Legend />

      <text x={645} y={1106} {...titleProps}>
        {`(c)${SP}Planetary Energy Imbalance (Heat Storage in Ocean, W/m`}
        <tspan dy={-13} fontSize={21}>
          2
        </tspan>
        <tspan dy={13}>)</tspan>
      </text>
      <Panel
        id="clipC"
        top={1121.5}
        bottom={1582.5}
        domain={[-1.25, 1.75]}
        ticks={[-1, -0.5, 0, 0.5, 1, 1.5]}
        blue={blueC}
        red={redC}
        greens={columns(greenC)}
        greenYears={bauYearsC}
        magenta={magentaC}
        zeroColor="#a0a0a0"
      />
      {xLabelYears.map((yr) => (
        <text
          key={'xl' + yr}
          x={xScale(yr)}
          y={1607}
          textAnchor="middle"
          fontFamily={FONT}
          fontSize={26}
          fill="#222"
        >
          {yr}
        </text>
      ))}
    </svg>
  );
}
